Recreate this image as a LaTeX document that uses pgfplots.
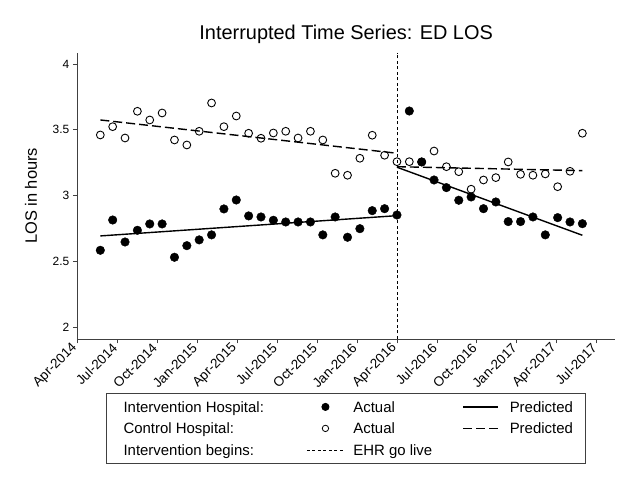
\documentclass[border=0pt]{standalone}
\usepackage{pgfplots}
\pgfplotsset{compat=1.18}
\usepackage{pgfplotstable}
\usepackage{fontspec}
\setmainfont{Liberation Sans}

\pgfplotsset{
  marklegend/.style={legend image code/.code={\draw[mark repeat=2,mark phase=2,##1] plot coordinates {(0bp,0bp) (18.5bp,0bp) (37bp,0bp)};}},
  lineAlegend/.style={legend image code/.code={\draw[##1] (0bp,0bp) -- (35bp,0bp);}},
  lineBlegend/.style={legend image code/.code={\draw[##1] (0bp,0bp) -- (37bp,0bp);}},
}

\pgfplotstableread{
x int ctl
1.728 2.585 3.461
2.656 2.815 3.524
3.584 2.648 3.438
4.512 2.737 3.641
5.440 2.785 3.575
6.368 2.785 3.628
7.296 2.532 3.423
8.224 2.620 3.385
9.152 2.664 3.489
10.080 2.702 3.704
11.008 2.899 3.524
11.936 2.967 3.605
12.864 2.846 3.474
13.792 2.838 3.436
14.720 2.813 3.476
15.648 2.800 3.489
16.576 2.800 3.438
17.504 2.800 3.489
18.432 2.702 3.423
19.360 2.838 3.170
20.288 2.684 3.155
21.216 2.749 3.284
22.144 2.886 3.459
23.072 2.901 3.307
24.000 2.853 3.258
24.928 3.643 3.258
25.856 3.256 3.256
26.784 3.119 3.339
27.712 3.061 3.220
28.640 2.965 3.182
29.568 2.990 3.049
30.496 2.901 3.119
31.424 2.952 3.137
32.352 2.803 3.256
33.280 2.803 3.162
34.208 2.838 3.155
35.136 2.702 3.165
36.064 2.833 3.068
36.992 2.800 3.185
37.920 2.787 3.474
}\losdata

\begin{document}
\begin{tikzpicture}
\useasboundingbox (0,0) rectangle (640bp,484bp);
\begin{axis}[
  at={(77.3bp,145bp)}, anchor=south west,
  scale only axis, width=537.7bp, height=286.3bp,
  xmin=0, xmax=40.37, ymin=1.911, ymax=4.086,
  axis x line*=bottom, axis y line*=left,
  axis line style={-, black!75, line width=0.8bp},
  tick align=outside, major tick length=4.5bp,
  tick style={black!75, line width=0.8bp},
  xtick={0,3,...,39},
  xticklabels={Apr-2014,Jul-2014,Oct-2014,Jan-2015,Apr-2015,Jul-2015,Oct-2015,Jan-2016,Apr-2016,Jul-2016,Oct-2016,Jan-2017,Apr-2017,Jul-2017},
  ytick={2,2.5,3,3.5,4},
  /pgf/number format/assume math mode=true,
  yticklabel style={font=\fontsize{12}{14}\selectfont},
  xticklabel style={font=\fontsize{13.5}{15}\selectfont, rotate=45, anchor=east},
  title={Interrupted Time Series: ED LOS},
  title style={at={(axis description cs:0.5,1)}, anchor=base, yshift=7.7bp, font=\fontsize{20}{23}\selectfont},
  ylabel={LOS in hours},
  ylabel style={at={(axis description cs:-0.075,0.5)}, anchor=base, font=\fontsize{16.5}{19}\selectfont},
  legend columns=3,
  legend cell align=left,
  legend style={at={(axis description cs:0.5,-0.1876)}, anchor=north, draw=black!75, line width=0.8bp,
    inner xsep=17bp, inner ysep=8.4bp, column sep=0pt, row sep=10.7bp,
    font=\fontsize{15}{17}\selectfont,
    nodes={inner sep=0pt, text height=10.8bp, text depth=0bp}},
]
\addplot[forget plot, black, line width=0.8bp, dash pattern=on 3bp off 2.5bp] coordinates {(24,1.911) (24,4.086)};
\addplot[forget plot, black, line width=1.4bp] coordinates {(1.728,2.694) (24,2.848)};
\addplot[forget plot, black, line width=1.4bp, dash pattern=on 9bp off 4bp] coordinates {(1.728,3.575) (24,3.322)};
\addplot[forget plot, black, line width=1.4bp] coordinates {(24,3.216) (37.92,2.699)};
\addplot[forget plot, black, line width=1.4bp, dash pattern=on 9bp off 4bp] coordinates {(24,3.220) (37.92,3.190)};
\addplot[forget plot, only marks, mark=*, mark size=4.3bp, black] table[x=x,y=int] {\losdata};
\addplot[forget plot, only marks, mark=o, mark size=3.9bp, black, mark options={line width=0.9bp}] table[x=x,y=ctl] {\losdata};

\addlegendimage{empty legend}
\addlegendentry{\makebox[183bp][l]{Intervention Hospital:}}
\addlegendimage{only marks, mark=*, mark size=3.6bp, black, marklegend}
\addlegendentry{\makebox[118bp][l]{\hspace*{9bp}Actual}}
\addlegendimage{black, line width=1.4bp, lineAlegend}
\addlegendentry{\makebox[70bp][l]{\hspace*{11bp}Predicted}}
\addlegendimage{empty legend}
\addlegendentry{\makebox[183bp][l]{Control Hospital:}}
\addlegendimage{only marks, mark=o, mark size=3.2bp, black, line width=0.8bp, marklegend}
\addlegendentry{\makebox[118bp][l]{\hspace*{9bp}Actual}}
\addlegendimage{black, line width=1.4bp, dash pattern=on 9bp off 4bp, lineAlegend}
\addlegendentry{\makebox[70bp][l]{\hspace*{11bp}Predicted}}
\addlegendimage{empty legend}
\addlegendentry{\makebox[183bp][l]{Intervention begins:}}
\addlegendimage{black, line width=0.8bp, dash pattern=on 3bp off 2.5bp, lineBlegend}
\addlegendentry{\makebox[118bp][l]{\hspace*{9bp}EHR go live}}
\end{axis}
\end{tikzpicture}
\end{document}
